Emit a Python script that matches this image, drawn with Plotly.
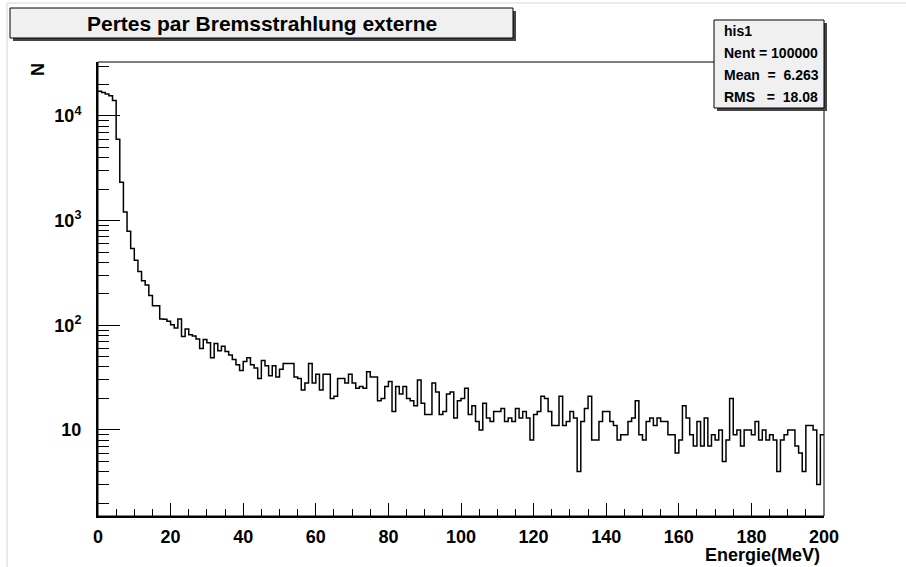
import numpy as np
import plotly.graph_objects as go

# histogram "his1": 200 bins of 1 MeV between 0 and 200 MeV
x_min = 0.0
bin_width = 1.0

counts_000_020 = [17200, 16800, 16200, 15600, 14100, 6000, 2330, 1210, 790, 540,
                  417, 327, 267, 243, 193, 154, 154, 115, 114, 109]
counts_020_040 = [101, 94, 115, 78, 92, 81, 79, 74, 60, 73,
                  68, 49, 67, 57, 63, 56, 52, 47, 42, 37]
counts_040_080 = [45, 49, 42, 39, 31, 46, 41, 33, 41, 32,
                  38, 43, 43, 43, 32, 31, 24, 28, 43, 28,
                  34, 24, 34, 34, 20, 21, 31, 31, 28, 34,
                  28, 25, 26, 25, 36, 32, 32, 19, 20, 26]
counts_080_120 = [29, 15, 26, 22, 26, 20, 19, 17, 30, 18,
                  14, 14, 28, 23, 14, 15, 22, 23, 13, 19,
                  20, 25, 14, 17, 12, 10, 18, 13, 12, 15,
                  15, 16, 12, 13, 12, 16, 13, 15, 13, 8]
counts_120_160 = [14, 15, 21, 20, 15, 11, 11, 21, 11, 12,
                  15, 13, 4, 12, 16, 21, 8, 8, 12, 15,
                  15, 12, 11, 8, 9, 9, 12, 13, 19, 9,
                  8, 12, 13, 11, 13, 12, 12, 9, 9, 6]
counts_160_200 = [8, 17, 13, 9, 7, 12, 7, 13, 7, 9,
                  8, 10, 5, 8, 20, 9, 10, 7, 10, 10,
                  9, 12, 8, 10, 8, 9, 8, 4, 8, 9,
                  10, 10, 7, 6, 4, 11, 11, 10, 3, 9]

counts = (counts_000_020 + counts_020_040 + counts_040_080
          + counts_080_120 + counts_120_160 + counts_160_200)

title_text = "Pertes par Bremsstrahlung externe"
stats_lines = ["his1", "Nent = 100000", "Mean\u00a0\u00a0=\u00a0\u00a06.263", "RMS\u00a0\u00a0\u00a0=\u00a0\u00a018.08"]
x_title = "Energie(MeV)"
y_title = "N"
y_tickvals = [10, 100, 1000, 10000]
y_ticktext = ["10", "10<sup>2</sup>", "10<sup>3</sup>", "10<sup>4</sup>"]

W, H = 906, 567
L, R, T, B = 98, 824, 62, 516  # plot frame in pixels

FONT = "Liberation Sans, Arial, Helvetica, sans-serif"


def px(x):
    return (x - L) / (R - L)


def py(y):
    return (B - y) / (B - T)


n = len(counts)
edges = x_min + bin_width * np.arange(n + 1)
yvals = counts + [counts[-1]]

fig = go.Figure()
fig.add_trace(go.Scatter(
    x=edges, y=yvals, mode="lines", line=dict(color="black", width=1.5, shape="hv"),
    hoverinfo="skip", showlegend=False,
))

minor_y = [m * 10 ** e for e in range(0, 5) for m in range(2, 10) if m * 10 ** e < 33000]

tickfont = dict(family=FONT, size=18, color="black", weight="bold")

fig.update_layout(
    width=W, height=H,
    margin=dict(l=L, r=W - R, t=T, b=H - B, pad=0),
    paper_bgcolor="white", plot_bgcolor="white",
    font=dict(family=FONT, color="black"),
    xaxis=dict(
        range=[0, 200], showgrid=False, zeroline=False, fixedrange=True,
        showline=True, linecolor="black", linewidth=2,
        ticks="inside", ticklen=13, tickwidth=1, tickcolor="black",
        tick0=0, dtick=20, tickfont=tickfont, ticklabelstandoff=3,
        minor=dict(ticks="inside", dtick=5, ticklen=7, tickwidth=1, tickcolor="black", showgrid=False),
    ),
    yaxis=dict(
        type="log", range=[0.177, 4.516], showgrid=False, zeroline=False, fixedrange=True,
        showline=True, linecolor="black", linewidth=2,
        ticks="inside", ticklen=22, tickwidth=1, tickcolor="black",
        tickmode="array", tickvals=y_tickvals, ticktext=y_ticktext,
        tickfont=tickfont, ticklabelstandoff=11,
        minor=dict(ticks="inside", tickmode="array", tickvals=minor_y, ticklen=11,
                   tickwidth=1, tickcolor="black", showgrid=False),
    ),
)

shapes = [
    # plot frame
    dict(type="rect", xref="paper", yref="paper", x0=0, x1=1, y0=0, y1=1,
         line=dict(color="black", width=1)),
    # canvas border
    dict(type="line", xref="paper", yref="paper", x0=px(7), x1=px(7), y0=py(3), y1=py(H),
         line=dict(color="#d8d8d8", width=1)),
    dict(type="line", xref="paper", yref="paper", x0=px(7), x1=px(W), y0=py(3), y1=py(3),
         line=dict(color="#d8d8d8", width=1)),
    # title box with shadow
    dict(type="rect", xref="paper", yref="paper", x0=px(13), x1=px(516), y0=py(11), y1=py(41),
         fillcolor="#444444", line=dict(width=0), layer="above"),
    dict(type="rect", xref="paper", yref="paper", x0=px(10), x1=px(513), y0=py(8), y1=py(38),
         fillcolor="#f0f0f0", line=dict(color="black", width=1), layer="above"),
    # stats box with shadow
    dict(type="rect", xref="paper", yref="paper", x0=px(717), x1=px(827), y0=py(23), y1=py(111),
         fillcolor="#444444", line=dict(width=0), layer="above"),
    dict(type="rect", xref="paper", yref="paper", x0=px(714), x1=px(824), y0=py(20), y1=py(108),
         fillcolor="#f0f0f0", line=dict(color="black", width=1), layer="above"),
]
fig.update_layout(shapes=shapes)

ann = [
    dict(text=f"<b>{title_text}</b>", x=px(262), y=py(23), xanchor="center", yanchor="middle",
         font=dict(size=21)),
    dict(text=f"<b>{y_title}</b>", x=px(38), y=py(70), xanchor="center", yanchor="middle",
         textangle=-90, font=dict(size=18)),
    dict(text=f"<b>{x_title}</b>", x=px(822), y=py(555), xanchor="right", yanchor="middle",
         font=dict(size=18)),
]
for i, line in enumerate(stats_lines):
    ann.append(dict(text=f"<b>{line}</b>", x=px(722), y=py(31 + 22 * i), xanchor="left",
                    yanchor="middle", font=dict(size=14)))
for a in ann:
    a.update(xref="paper", yref="paper", showarrow=False)
fig.update_layout(annotations=ann)

# the page's default body margin would shift the whole figure by 8px
fig.write_html("out.html", config={"displayModeBar": False},
               post_script="document.body.style.margin='0';")
